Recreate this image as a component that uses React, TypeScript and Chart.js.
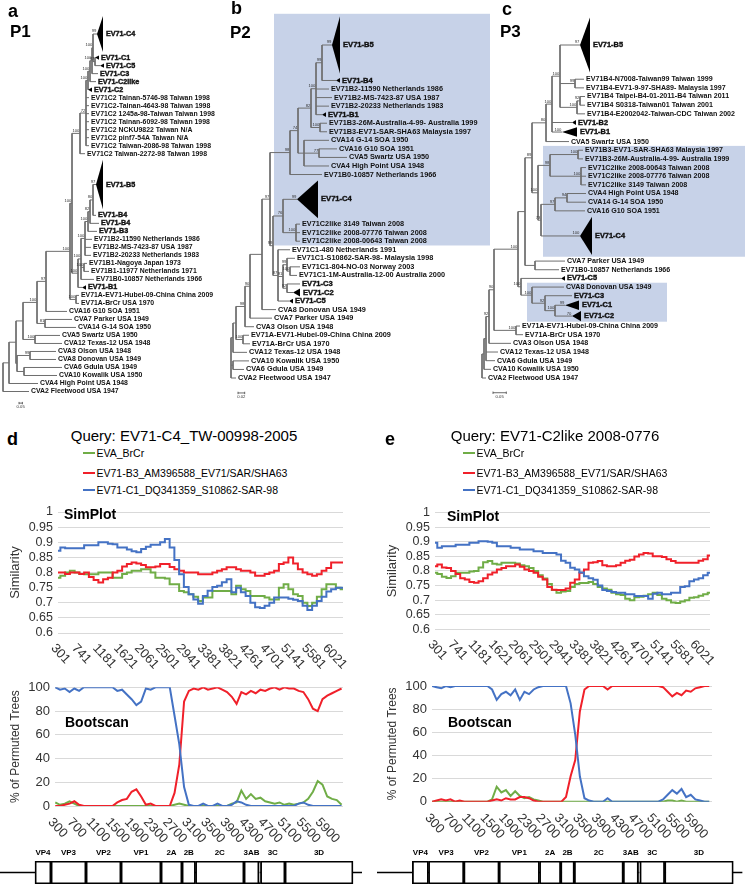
import React, { useEffect, useRef } from "react";
import { Chart, registerables } from "chart.js";

Chart.register(...registerables);

const FONT = '"Liberation Sans", Arial, Helvetica, sans-serif';
Chart.defaults.font.family = FONT;

// ---------------- colours ----------------
const GREEN = "#70AD47";
const RED = "#F0202A";
const BLUE = "#4472C4";
const GRID = "#D9D9D9";
const SHADE = "#C7D2E8";
const TREE_LINE = "#6E6E6E";

// ---------------- text ----------------
const seriesNames = ["EVA_BrCr", "EV71-B3_AM396588_EV71/SAR/SHA63", "EV71-C1_DQ341359_S10862-SAR-98"];
const seriesColors = [GREEN, RED, BLUE];
const titleD = "Query: EV71-C4_TW-00998-2005";
const titleE = "Query: EV71-C2like 2008-0776";

// ---------------- SimPlot / Bootscan data ----------------
const winPos = [300, 400, 500, 600, 700, 800, 900, 1000, 1100, 1200, 1300, 1400, 1500, 1600, 1700, 1800, 1900, 2000, 2100, 2200, 2300, 2400, 2500, 2600, 2700, 2800, 2900, 3000, 3100, 3200, 3300, 3400, 3500, 3600, 3700, 3800, 3900, 4000, 4100, 4200, 4300, 4400, 4500, 4600, 4700, 4800, 4900, 5000, 5100, 5200, 5300, 5400, 5500, 5600, 5700, 5800, 5900, 6000, 6100, 6200, 6300];

const simTickLabels = ["301", "741", "1181", "1621", "2061", "2501", "2941", "3381", "3821", "4261", "4701", "5141", "5581", "6021"];
const bootTickLabels = ["300", "700", "1100", "1500", "1900", "2300", "2700", "3100", "3500", "3900", "4300", "4700", "5100", "5500", "5900"];

const simD_green = [0.783, 0.789, 0.8, 0.806, 0.8, 0.795, 0.794, 0.794, 0.794, 0.8, 0.8, 0.8, 0.783, 0.783, 0.795, 0.8, 0.806, 0.806, 0.811, 0.811, 0.8, 0.783, 0.783, 0.78, 0.761, 0.761, 0.739, 0.735, 0.728, 0.72, 0.706, 0.717, 0.717, 0.739, 0.739, 0.739, 0.739, 0.728, 0.756, 0.745, 0.739, 0.722, 0.722, 0.722, 0.717, 0.711, 0.711, 0.75, 0.761, 0.745, 0.728, 0.722, 0.7, 0.689, 0.7, 0.72, 0.745, 0.761, 0.761, 0.75, 0.745];
const simD_red = [0.8, 0.8, 0.795, 0.8, 0.8, 0.795, 0.8, 0.785, 0.775, 0.767, 0.778, 0.783, 0.8, 0.806, 0.82, 0.828, 0.833, 0.83, 0.825, 0.817, 0.817, 0.82, 0.828, 0.828, 0.818, 0.811, 0.806, 0.8, 0.8, 0.8, 0.794, 0.794, 0.794, 0.8, 0.806, 0.811, 0.817, 0.817, 0.811, 0.806, 0.806, 0.8, 0.789, 0.789, 0.795, 0.8, 0.806, 0.828, 0.833, 0.85, 0.83, 0.811, 0.8, 0.794, 0.789, 0.794, 0.806, 0.815, 0.833, 0.833, 0.833];
const simD_blue = [0.872, 0.883, 0.88, 0.88, 0.88, 0.88, 0.89, 0.89, 0.89, 0.9, 0.9, 0.895, 0.893, 0.883, 0.883, 0.876, 0.87, 0.867, 0.878, 0.885, 0.892, 0.892, 0.9, 0.911, 0.883, 0.841, 0.794, 0.752, 0.728, 0.711, 0.697, 0.722, 0.74, 0.752, 0.756, 0.768, 0.778, 0.735, 0.75, 0.735, 0.722, 0.7, 0.685, 0.683, 0.69, 0.7, 0.717, 0.717, 0.717, 0.713, 0.71, 0.706, 0.69, 0.676, 0.69, 0.706, 0.72, 0.737, 0.745, 0.75, 0.75];

const simE_green = [0.794, 0.79, 0.78, 0.776, 0.782, 0.794, 0.794, 0.794, 0.798, 0.8, 0.812, 0.83, 0.834, 0.825, 0.822, 0.828, 0.828, 0.828, 0.826, 0.82, 0.816, 0.81, 0.8, 0.785, 0.774, 0.755, 0.735, 0.725, 0.73, 0.731, 0.745, 0.755, 0.759, 0.759, 0.762, 0.755, 0.745, 0.74, 0.736, 0.725, 0.72, 0.718, 0.705, 0.7, 0.71, 0.712, 0.715, 0.72, 0.725, 0.718, 0.705, 0.7, 0.692, 0.69, 0.695, 0.7, 0.708, 0.71, 0.715, 0.72, 0.725];
const simE_red = [0.816, 0.822, 0.812, 0.81, 0.8, 0.79, 0.775, 0.771, 0.762, 0.76, 0.765, 0.775, 0.788, 0.795, 0.805, 0.81, 0.816, 0.816, 0.822, 0.815, 0.805, 0.8, 0.794, 0.78, 0.771, 0.745, 0.736, 0.735, 0.735, 0.74, 0.76, 0.771, 0.794, 0.805, 0.828, 0.83, 0.834, 0.82, 0.816, 0.816, 0.82, 0.828, 0.835, 0.839, 0.85, 0.857, 0.862, 0.86, 0.851, 0.851, 0.848, 0.84, 0.834, 0.828, 0.828, 0.828, 0.828, 0.828, 0.835, 0.84, 0.853];
const simE_blue = [0.897, 0.88, 0.885, 0.885, 0.885, 0.89, 0.89, 0.89, 0.897, 0.897, 0.902, 0.902, 0.9, 0.897, 0.885, 0.885, 0.885, 0.88, 0.88, 0.874, 0.874, 0.874, 0.868, 0.868, 0.862, 0.862, 0.862, 0.857, 0.835, 0.828, 0.811, 0.805, 0.795, 0.782, 0.775, 0.77, 0.75, 0.735, 0.731, 0.728, 0.725, 0.725, 0.72, 0.72, 0.714, 0.714, 0.714, 0.705, 0.722, 0.725, 0.72, 0.72, 0.725, 0.725, 0.745, 0.748, 0.765, 0.771, 0.775, 0.785, 0.794];

const bootD_green = [3, 1, 2, 4, 2, 0, 0, 0, 0, 0, 0, 0, 0, 0, 0, 0, 0, 0, 0, 0, 0, 0, 0, 0, 0, 1, 2, 1, 0, 0, 0, 0, 0, 0, 0, 0, 0, 2, 3, 13, 6, 10, 6, 7, 4, 3, 2, 3, 1, 2, 1, 2, 3, 6, 12, 21, 18, 8, 6, 5, 1];
const bootD_red = [0, 0, 1, 2, 4, 1, 0, 0, 0, 0, 0, 0, 0, 3, 5, 6, 12, 14, 8, 1, 2, 0, 0, 0, 0, 11, 35, 88, 97, 99, 98, 100, 98, 99, 100, 98, 96, 92, 86, 96, 94, 97, 95, 98, 97, 99, 100, 98, 100, 99, 99, 97, 96, 90, 82, 80, 90, 93, 95, 97, 99];
const bootD_blue = [100, 98, 99, 96, 99, 97, 100, 100, 100, 100, 100, 100, 100, 97, 98, 94, 90, 85, 88, 99, 98, 100, 100, 100, 100, 76, 52, 16, 1, 0, 0, 2, 0, 0, 2, 0, 0, 1, 4, 3, 1, 0, 0, 0, 0, 0, 0, 0, 0, 0, 0, 2, 3, 1, 0, 0, 0, 0, 0, 0, 0];

const bootE_green = [0, 0, 0, 0, 0, 0, 0, 0, 0, 0, 0, 0, 0, 2, 13, 8, 10, 5, 9, 5, 3, 4, 2, 1, 0, 0, 0, 0, 0, 0, 0, 0, 0, 0, 0, 0, 0, 0, 0, 0, 0, 0, 0, 0, 0, 0, 0, 0, 0, 0, 0, 1, 1, 0, 1, 0, 0, 0, 0, 0, 0];
const bootE_red = [0, 1, 2, 1, 2, 0, 1, 0, 0, 0, 0, 0, 0, 1, 2, 1, 3, 2, 2, 4, 4, 3, 1, 0, 0, 0, 0, 0, 0, 4, 22, 36, 78, 97, 100, 100, 100, 100, 97, 100, 100, 100, 100, 100, 100, 100, 100, 100, 100, 100, 99, 95, 91, 94, 92, 96, 95, 98, 99, 100, 100];
const bootE_blue = [100, 99, 98, 100, 99, 100, 100, 100, 100, 100, 100, 100, 100, 97, 88, 93, 95, 92, 97, 88, 95, 93, 97, 99, 100, 100, 100, 100, 100, 100, 85, 58, 22, 3, 1, 0, 0, 0, 3, 0, 0, 0, 0, 0, 0, 0, 0, 0, 0, 0, 2, 6, 10, 7, 11, 4, 6, 2, 1, 0, 0];

// ---------------- genome map ----------------
const mapSegments = ["VP4", "VP3", "VP2", "VP1", "2A", "2B", "2C", "3A", "3B", "3C", "3D"];
const mapLabels = ["VP4", "VP3", "VP2", "VP1", "2A", "2B", "2C", "3AB", "", "3C", "3D"];
const mapBounds = [0, 16, 51, 86, 126, 147, 160.5, 209, 224, 225.5, 250, 318];
const mapBackbone = [-35, 327];

// ---------------- trees (leaf / node depth after ':', support before ':') ----------------
// leaf prefix "#rows;apex;support|" = collapsed clade triangle, ">" = small collapsed clade
const a_C = "((((((#4.9;97;99|EV71-C4:103,(>EV71-C1:99,>EV71-C5:104)97:95)100:93,EV71-C3:98)100:92,EV71-C2like:96)100:90,>EV71-C2:92)100:88,EV71C2 Tainan-5746-98 Taiwan 1998:89,EV71C2-Tainan-4643-98 Taiwan 1998:89,EV71C2 1245a-98-Taiwan Taiwan 1998:89,EV71C2 Tainan-6092-98 Taiwan 1998:89,EV71C2 NCKU9822 Taiwan N/A:89,EV71C2 pinf7-54A Taiwan N/A:89,EV71C2 Taiwan-2086-98 Taiwan 1998:89)72:86,EV71C2 Taiwan-2272-98 Taiwan 1998:85)100:80";
const a_B = "((((((#6.7;96;97|EV71-B5:103,EV71-B4:96)80:93,EV71-B4:99)82:90,EV71-B3:97)100:88,EV71B2-11590 Netherlands 1986:92,EV71B2-MS-7423-87 USA 1987:91,EV71B2-20233 Netherlands 1983:91)100:85,(EV71B1-Nagoya Japan 1973:87,EV71B1-11977 Netherlands 1971:89)100:84,EV71B0-10857 Netherlands 1966:94)100:81,>EV71-B1:86)100:78";
const treeA = "((((((((" + a_C + "," + a_B + ")100:72,(EV71A-EV71-Hubei-09-China China 2009:79,EV71A-BrCr USA 1970:79)100:76)100:70,CVA16 G10 SOA 1951:67)97:46,(CVA7 Parker USA 1949:72,CVA14 G-14 SOA 1950:76)81:45)100:37,(CVA5 Swartz USA 1950:60,CVA12 Texas-12 USA 1948:62)100:35):23,((CVA3 Olson USA 1948:56,CVA8 Donovan USA 1949:56)99:30,(CVA6 Gdula USA 1949:62,CVA10 Kowalik USA 1950:57):24):17):16,CVA4 High Point USA 1948:38):9,CVA2 Fleetwood USA 1947:29):3";

const b_N11 = "(#7.3;332;99|EV71-B5:340,>EV71-B4:340)99:322";
const b_N10 = "(" + b_N11 + ",EV71B2-11590 Netherlands 1986:329,EV71B2-MS-7423-87 USA 1987:332,EV71B2-20233 Netherlands 1983:329,>EV71-B1:326)100:316";
const b_N9 = "(" + b_N10 + ",(EV71B3-26M-Australia-4-99- Australia 1999:327,EV71B3-EV71-SAR-SHA63 Malaysia 1997:327)100:320)82:311";
const b_N8 = "(" + b_N9 + ",(CVA14 G-14 SOA 1950:329,(CVA16 G10 SOA 1951:337,CVA5 Swartz USA 1950:347)77:319,CVA4 High Point USA 1948:329):304)74:298";
const b_N7 = "(" + b_N8 + ",EV71B0-10857 Netherlands 1966:322)98:290";
const b_Ca = "(#4.8;297;99|EV71-C4:318,(EV71C2like 3149 Taiwan 2008:300,EV71C2like 2008-07776 Taiwan 2008:300,EV71C2like 2008-00643 Taiwan 2008:300)100:296)76:283";
const b_Cb = "(EV71C1-480 Netherlands 1991:290,((EV71C1-S10862-SAR-98- Malaysia 1998:295,(EV71C1-804-NO-03 Norway 2003:300,EV71C1-1M-Australia-12-00 Australia 2000:297)100:290)99:287,(EV71-C3:300,#1;293;|EV71-C2:300)92:287)91:283,>EV71-C5:293)87:278";
const b_N6 = "(" + b_N7 + ",(" + b_Ca + "," + b_Cb + ")99:273)97:270";
const treeB = "((((((" + b_N6 + ",CVA8 Donovan USA 1949:276):262,CVA7 Parker USA 1949:272)90:250,CVA3 Olson USA 1948:254)98:245,(EV71A-EV71-Hubei-09-China China 2009:249,EV71A-BrCr USA 1970:250)100:243):236,CVA12 Texas-12 USA 1948:247):233,(CVA10 Kowalik USA 1950:249,CVA6 Gdula USA 1949:244):233,CVA2 Fleetwood USA 1947:236):231";

const c_Bi = "(#6.9;580;97|EV71-B5:590,(EV71B4-N7008-Taiwan99 Taiwan 1999:584,EV71B4-EV71-9-97-SHA89- Malaysia 1997:584)99:575,((EV71B4 Taipei-B4-01-2011-B4 Taiwan 2011:585,EV71B4 S0318-Taiwan01 Taiwan 2001:585)92:580,EV71B4-E2002042-Taiwan-CDC Taiwan 2002:585)100:577)100:560";
const c_Bg = "((" + c_Bi + ",>EV71-B2:576,#1.2;562;100|EV71-B1:577)100:552,CVA5 Swartz USA 1950:569)80:546";
const c_Sa = "((EV71B3-EV71-SAR-SHA63 Malaysia 1997:583,EV71B3-26M-Australia-4-99- Australia 1999:583)100:578,(EV71C2like 2008-00643 Taiwan 2008:586,EV71C2like 2008-07776 Taiwan 2008:586,EV71C2like 3149 Taiwan 2008:586)100:581)98:550";
const c_Sb = "(((CVA4 High Point USA 1948:586,CVA14 G-14 SOA 1950:586)94:567,CVA16 G10 SOA 1951:585)97:555,#4.8;580;100|EV71-C4:592)73:541";
const c_U = "((" + c_Bg + ",(" + c_Sa + "," + c_Sb + ")100:538)89:532,(CVA7 Parker USA 1949:565,EV71B0-10857 Netherlands 1966:559):535):525";
const c_Cl = "(>EV71-C5:565,(CVA8 Donovan USA 1949:564,(EV71-C3:572,(#1.2;565;99|EV71-C1:579,#1.3;572;70|EV71-C2:581)100:555)92:545)100:532)100:521";
const treeC = "((((((" + c_U + "," + c_Cl + ")100:518,(EV71A-EV71-Hubei-09-China China 2009:520,EV71A-BrCr USA 1970:523)100:516)90:494,CVA3 Olson USA 1948:511)92:489,CVA12 Texas-12 USA 1948:498,CVA6 Gdula USA 1949:495):486,CVA10 Kowalik USA 1950:491):484,CVA2 Fleetwood USA 1947:486):482";

const shadeB = [{ from: "EV71-B5", to: "EV71C2like 2008-00643 Taiwan 2008", x0: 274, x1: 490 }];
const shadeC = [
  { from: "EV71B3-EV71-SAR-SHA63 Malaysia 1997", to: "EV71-C4", x0: 543, x1: 745 },
  { from: "CVA8 Donovan USA 1949", to: "EV71-C2", x0: 527, x1: 667 },
];
const scaleBarA = { x: 19, len: 3.4, label: "0.05", dy: 1.45 };
const scaleBarB = { x: 238, len: 6.7, label: "0.02", dy: 1.75 };
const scaleBarC = { x: 493, len: 13.3, label: "0.05", dy: 1.7 };

// ---------------- tree helpers ----------------
type TNode = { name: string; x: number; bs: string; children: TNode[]; w: number; y: number; tri?: { apex: number; bs: string }; arrow?: boolean };

function parseTree(s: string): TNode {
  let i = 0;
  const node = (): TNode => {
    const children: TNode[] = [];
    if (s[i] === "(") {
      i++;
      children.push(node());
      while (s[i] === ",") { i++; children.push(node()); }
      i++; // ')'
    }
    const j = i;
    while (i < s.length && s[i] !== ":" && s[i] !== "," && s[i] !== ")") i++;
    let name = s.slice(j, i).trim();
    let x = 0;
    if (s[i] === ":") {
      i++;
      const k = i;
      while (i < s.length && /[0-9.\-]/.test(s[i])) i++;
      x = parseFloat(s.slice(k, i));
    }
    const n: TNode = { name: "", x, bs: "", children, w: 1, y: 0 };
    if (children.length) n.bs = name;
    else {
      if (name.startsWith("#")) {
        const bar = name.indexOf("|");
        const p = name.slice(1, bar).split(";");
        n.w = parseFloat(p[0]);
        n.tri = { apex: parseFloat(p[1]), bs: p[2] || "" };
        name = name.slice(bar + 1);
      } else if (name.startsWith(">")) {
        n.arrow = true;
        name = name.slice(1);
      }
      n.name = name;
    }
    return n;
  };
  return node();
}

function treeConfig(src: string, o: any) {
  const root = parseTree(src);
  const leaves: TNode[] = [];
  const internals: TNode[] = [];
  let cursor = 0;
  const place = (n: TNode) => {
    if (!n.children.length) {
      n.y = cursor + n.w / 2;
      cursor += n.w;
      leaves.push(n);
    } else {
      n.children.forEach(place);
      n.y = (n.children[0].y + n.children[n.children.length - 1].y) / 2;
      internals.push(n);
    }
  };
  place(root);
  const pts: any[] = [];
  internals.forEach((n) => {
    const f = n.children[0];
    const l = n.children[n.children.length - 1];
    pts.push({ x: n.x, y: f.y }, { x: n.x, y: l.y }, { x: null, y: null });
    n.children.forEach((c) => {
      const end = c.tri ? c.tri.apex : c.arrow ? c.x - 4 : c.x;
      pts.push({ x: n.x, y: c.y }, { x: end, y: c.y }, { x: null, y: null });
    });
  });
  const r1 = leaves[0].y;
  const r2 = leaves[leaves.length - 1].y;
  const rpp = (r2 - r1) / (o.lastPx - o.firstPx);
  const yMin = r1 - o.firstPx * rpp;
  const yMax = yMin + o.height * rpp;

  const plugin = {
    id: "treeDraw",
    beforeDatasetsDraw(chart: any) {
      const ctx = chart.ctx, xs = chart.scales.x, ys = chart.scales.y;
      ctx.save();
      ctx.fillStyle = SHADE;
      (o.boxes || []).forEach((b: any) => {
        const f = leaves.find((l) => l.name === b.from)!;
        const t = leaves.find((l) => l.name === b.to)!;
        const y0 = ys.getPixelForValue(f.y - f.w / 2);
        const y1 = ys.getPixelForValue(t.y + t.w / 2);
        const x0 = xs.getPixelForValue(b.x0);
        const x1 = xs.getPixelForValue(b.x1);
        ctx.fillRect(x0, y0, x1 - x0, y1 - y0);
      });
      ctx.restore();
    },
    afterDatasetsDraw(chart: any) {
      const ctx = chart.ctx, xs = chart.scales.x, ys = chart.scales.y;
      const rowPx = Math.abs(ys.getPixelForValue(1) - ys.getPixelForValue(0));
      ctx.save();
      ctx.fillStyle = "#000";
      leaves.forEach((l) => {
        const py = ys.getPixelForValue(l.y);
        if (l.tri) {
          const h = (l.w * rowPx * 0.92) / 2;
          ctx.beginPath();
          ctx.moveTo(xs.getPixelForValue(l.tri.apex), py);
          ctx.lineTo(xs.getPixelForValue(l.x), py - h);
          ctx.lineTo(xs.getPixelForValue(l.x), py + h);
          ctx.closePath();
          ctx.fill();
        } else if (l.arrow) {
          const h = rowPx * 0.28;
          ctx.beginPath();
          ctx.moveTo(xs.getPixelForValue(l.x - 4), py);
          ctx.lineTo(xs.getPixelForValue(l.x), py - h);
          ctx.lineTo(xs.getPixelForValue(l.x), py + h);
          ctx.closePath();
          ctx.fill();
        }
      });
      ctx.textBaseline = "middle";
      ctx.textAlign = "left";
      leaves.forEach((l) => {
        const py = ys.getPixelForValue(l.y);
        const px = xs.getPixelForValue(l.x) + (l.tri ? 3 : 2);
        const clade = l.name.startsWith("EV71-");
        ctx.font = `bold ${clade ? o.fs + 0.3 : o.fs}px ${FONT}`;
        ctx.fillStyle = "#111";
        ctx.fillText(l.name, px, py);
        if (clade) {
          ctx.strokeStyle = "#111";
          ctx.lineWidth = 0.4;
          ctx.strokeText(l.name, px, py);
        }
      });
      ctx.font = `4.2px ${FONT}`;
      ctx.fillStyle = "#333";
      ctx.textAlign = "right";
      ctx.textBaseline = "bottom";
      internals.forEach((n) => {
        if (n.bs) ctx.fillText(n.bs, xs.getPixelForValue(n.x) - 0.6, ys.getPixelForValue(n.y) - 0.6);
      });
      leaves.forEach((l) => {
        if (l.tri && l.tri.bs) ctx.fillText(l.tri.bs, xs.getPixelForValue(l.tri.apex) - 0.6, ys.getPixelForValue(l.y) - 0.6);
      });
      const sb = o.scaleBar;
      const sy = ys.getPixelForValue(r2 + sb.dy);
      const sx0 = xs.getPixelForValue(sb.x);
      const sx1 = xs.getPixelForValue(sb.x + sb.len);
      ctx.strokeStyle = "#444";
      ctx.lineWidth = 0.8;
      ctx.beginPath();
      ctx.moveTo(sx0, sy);
      ctx.lineTo(sx1, sy);
      ctx.moveTo(sx0, sy - 1.2);
      ctx.lineTo(sx0, sy + 1.2);
      ctx.moveTo(sx1, sy - 1.2);
      ctx.lineTo(sx1, sy + 1.2);
      ctx.stroke();
      ctx.textAlign = "center";
      ctx.textBaseline = "top";
      ctx.fillText(sb.label, (sx0 + sx1) / 2, sy + 2);
      ctx.restore();
    },
  };

  return {
    type: "line",
    data: {
      datasets: [
        { data: pts, borderColor: TREE_LINE, borderWidth: 1, pointRadius: 0, spanGaps: false, fill: false, tension: 0 },
      ],
    },
    options: {
      responsive: false,
      animation: false,
      devicePixelRatio: 1,
      layout: { padding: 0 },
      plugins: { legend: { display: false }, tooltip: { enabled: false } },
      scales: {
        x: { type: "linear", min: o.left, max: o.left + o.width, display: false },
        y: { type: "linear", min: yMin, max: yMax, reverse: true, display: false },
      },
    },
    plugins: [plugin],
  };
}

// ---------------- series chart ----------------
function seriesConfig(o: any) {
  const tickVals = o.tickLabels.map(Number);
  const rot = {
    id: "rotLabels",
    afterDraw(chart: any) {
      const ctx = chart.ctx, xs = chart.scales.x, area = chart.chartArea;
      ctx.save();
      ctx.font = `13px ${FONT}`;
      ctx.fillStyle = "#333";
      ctx.textAlign = "left";
      ctx.textBaseline = "middle";
      tickVals.forEach((v: number, i: number) => {
        const px = xs.getPixelForValue(v);
        ctx.save();
        ctx.translate(px - 5, area.bottom + o.labelDy);
        ctx.rotate((47 * Math.PI) / 180);
        ctx.fillText(o.tickLabels[i], 0, 0);
        ctx.restore();
      });
      ctx.restore();
    },
  };
  return {
    type: "line",
    data: {
      datasets: o.series.map((vals: number[], k: number) => ({
        label: seriesNames[k],
        data: vals.map((v, i) => ({ x: winPos[i], y: v })),
        borderColor: seriesColors[k],
        borderWidth: 2,
        pointRadius: 0,
        fill: false,
        tension: 0,
        stepped: o.stepped ? "middle" : false,
        order: 3 - k,
      })),
    },
    options: {
      responsive: false,
      animation: false,
      devicePixelRatio: 1,
      layout: { padding: o.padding },
      plugins: { legend: { display: false }, tooltip: { enabled: false } },
      scales: {
        x: { type: "linear", min: o.xMin, max: o.xMax, display: false },
        y: {
          type: "linear",
          min: o.yMin,
          max: o.yMax,
          ticks: {
            stepSize: o.step,
            autoSkip: false,
            color: "#333",
            font: { size: o.tickSize, family: FONT },
            padding: 5,
            callback: (v: number) => String(Math.round(v * 100) / 100),
          },
          grid: { color: GRID, drawTicks: false, lineWidth: 1 },
          border: { display: false },
          title: {
            display: true,
            text: o.yTitle,
            color: "#333",
            font: { size: o.titleSize, family: FONT },
            padding: { top: o.titlePad, bottom: 0 },
          },
          afterFit: (s: any) => {
            s.width = o.yWidth;
          },
        },
      },
    },
    plugins: [rot],
  };
}

// ---------------- genome map ----------------
function mapConfig(xMin: number, xMax: number) {
  const plugin = {
    id: "genomeMap",
    beforeDatasetsDraw(chart: any) {
      const ctx = chart.ctx, xs = chart.scales.x, a = chart.chartArea;
      const cy = (a.top + a.bottom) / 2;
      ctx.save();
      ctx.strokeStyle = "#000";
      ctx.lineWidth = 1.6;
      ctx.beginPath();
      ctx.moveTo(xs.getPixelForValue(mapBackbone[0]), cy);
      ctx.lineTo(xs.getPixelForValue(mapBackbone[1]), cy);
      ctx.stroke();
      ctx.restore();
    },
    afterDatasetsDraw(chart: any) {
      const ctx = chart.ctx, xs = chart.scales.x, a = chart.chartArea;
      ctx.save();
      ctx.font = `bold 8px ${FONT}`;
      ctx.fillStyle = "#000";
      ctx.textAlign = "center";
      ctx.textBaseline = "middle";
      mapLabels.forEach((lab, i) => {
        if (!lab) return;
        const cx = (xs.getPixelForValue(mapBounds[i]) + xs.getPixelForValue(mapBounds[i + 1])) / 2;
        ctx.fillText(lab, cx, a.top - 8);
      });
      ctx.restore();
    },
  };
  return {
    type: "bar",
    data: {
      labels: ["genome"],
      datasets: mapSegments.map((name, i) => ({
        label: name,
        data: [[mapBounds[i], mapBounds[i + 1]]],
        backgroundColor: "#fff",
        borderColor: "#000",
        borderWidth: 1.8,
        borderSkipped: false,
        grouped: false,
        barPercentage: 1,
        categoryPercentage: 1,
      })),
    },
    options: {
      indexAxis: "y",
      responsive: false,
      animation: false,
      devicePixelRatio: 1,
      layout: { padding: { top: 16, bottom: 1, left: 0, right: 0 } },
      plugins: { legend: { display: false }, tooltip: { enabled: false } },
      scales: {
        x: { type: "linear", min: xMin, max: xMax, display: false },
        y: { type: "category", display: false },
      },
    },
    plugins: [plugin],
  };
}

// ---------------- components ----------------
function ChartCanvas({ left, top, width, height, make }: any) {
  const ref = useRef<HTMLCanvasElement>(null);
  useEffect(() => {
    const chart = new Chart(ref.current as HTMLCanvasElement, make());
    return () => chart.destroy();
  }, []);
  return (
    <canvas
      ref={ref}
      width={width}
      height={height}
      style={{ position: "absolute", left, top, width, height }}
    />
  );
}

function T({ x, b, fs, w = 400, align = "left", children }: any) {
  return (
    <div
      style={{
        position: "absolute",
        left: x,
        top: b - 0.8465 * fs,
        fontSize: fs,
        lineHeight: fs + "px",
        fontWeight: w,
        fontFamily: FONT,
        whiteSpace: "nowrap",
        color: "#000",
        transform: align === "center" ? "translateX(-50%)" : undefined,
      }}
    >
      {children}
    </div>
  );
}

function Legend({ x }: any) {
  const rows = [457.3, 476.5, 494];
  return (
    <>
      {seriesNames.map((n, i) => (
        <React.Fragment key={n}>
          <div style={{ position: "absolute", left: x, top: rows[i] - 5, width: 12, height: 2, background: seriesColors[i] }} />
          <T x={x + 13.5} b={rows[i]} fs={10.5}>{n}</T>
        </React.Fragment>
      ))}
    </>
  );
}

export default function App() {
  return (
    <div style={{ position: "absolute", left: 0, top: 0, width: 747, height: 885, background: "#fff", overflow: "hidden" }}>
      {/* trees */}
      <ChartCanvas left={0} top={0} width={240} height={420}
        make={() => treeConfig(treeA, { left: 0, width: 240, height: 420, firstPx: 34, lastPx: 391.5, fs: 6.9, boxes: [], scaleBar: scaleBarA })} />
      <ChartCanvas left={228} top={0} width={272} height={420}
        make={() => treeConfig(treeB, { left: 228, width: 272, height: 420, firstPx: 45, lastPx: 378, fs: 7.3, boxes: shadeB, scaleBar: scaleBarB })} />
      <ChartCanvas left={478} top={0} width={269} height={420}
        make={() => treeConfig(treeC, { left: 478, width: 269, height: 420, firstPx: 45, lastPx: 378, fs: 7.1, boxes: shadeC, scaleBar: scaleBarC })} />

      <T x={8} b={17} fs={18} w={700}>a</T>
      <T x={10} b={37} fs={17} w={700}>P1</T>
      <T x={231} b={14} fs={18} w={700}>b</T>
      <T x={230} b={38} fs={17} w={700}>P2</T>
      <T x={502} b={15} fs={18} w={700}>c</T>
      <T x={500} b={37} fs={17} w={700}>P3</T>

      {/* panel d */}
      <T x={7} b={445} fs={18} w={700}>d</T>
      <T x={184} b={440.7} fs={15} align="center">{titleD}</T>
      <Legend x={83} />
      <ChartCanvas left={0} top={495} width={360} height={185}
        make={() => seriesConfig({ series: [simD_green, simD_red, simD_blue], xMin: 300, xMax: 6300, yMin: 0.6, yMax: 1, step: 0.05, tickSize: 12.5, yTitle: "Similarity", titleSize: 13, titlePad: 8, yWidth: 58, padding: { top: 17, right: 17, bottom: 47, left: 0 }, tickLabels: simTickLabels, labelDy: 13, stepped: true })} />
      <T x={64} b={519} fs={14} w={700}>SimPlot</T>
      <ChartCanvas left={0} top={670} width={360} height={180}
        make={() => seriesConfig({ series: [bootD_green, bootD_red, bootD_blue], xMin: 295, xMax: 6330, yMin: 0, yMax: 100, step: 20, tickSize: 13, yTitle: "% of Permuted Trees", titleSize: 12, titlePad: 8.5, yWidth: 55, padding: { top: 17.3, right: 17, bottom: 44, left: 0 }, tickLabels: bootTickLabels, labelDy: 14, stepped: false })} />
      <T x={65} b={727} fs={14} w={700}>Bootscan</T>
      <ChartCanvas left={0} top={845} width={370} height={40} make={() => mapConfig(-35, 335)} />

      {/* panel e */}
      <T x={385} b={445} fs={18} w={700}>e</T>
      <T x={555} b={440.7} fs={15} align="center">{titleE}</T>
      <Legend x={463} />
      <ChartCanvas left={377} top={495} width={360} height={185}
        make={() => seriesConfig({ series: [simE_green, simE_red, simE_blue], xMin: 300, xMax: 6300, yMin: 0.6, yMax: 1, step: 0.05, tickSize: 12.5, yTitle: "Similarity", titleSize: 13, titlePad: 8, yWidth: 58, padding: { top: 17.7, right: 27, bottom: 50.7, left: 0 }, tickLabels: simTickLabels, labelDy: 13, stepped: true })} />
      <T x={447} b={521} fs={14} w={700}>SimPlot</T>
      <ChartCanvas left={377} top={670} width={360} height={180}
        make={() => seriesConfig({ series: [bootE_green, bootE_red, bootE_blue], xMin: 300, xMax: 6360, yMin: 0, yMax: 100, step: 20, tickSize: 13, yTitle: "% of Permuted Trees", titleSize: 12, titlePad: 8.5, yWidth: 55, padding: { top: 16, right: 25, bottom: 48.3, left: 0 }, tickLabels: bootTickLabels, labelDy: 14, stepped: false })} />
      <T x={448} b={727} fs={14} w={700}>Bootscan</T>
      <ChartCanvas left={377} top={845} width={370} height={40} make={() => mapConfig(-35, 331.6)} />
    </div>
  );
}
